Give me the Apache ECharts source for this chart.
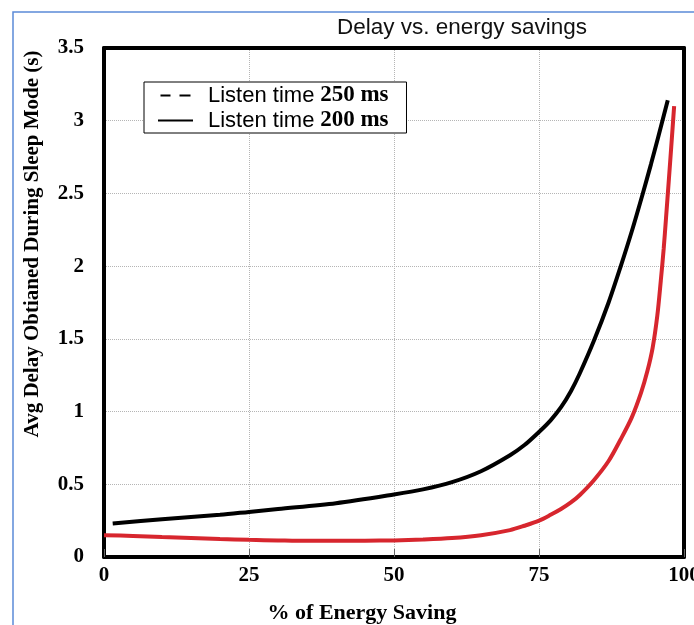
<!DOCTYPE html>
<html>
<head>
<meta charset="utf-8">
<script src="https://cdn.jsdelivr.net/npm/echarts@6/dist/echarts.min.js"></script>
<style>html,body{margin:0;padding:0;background:#fff;}#c{width:694px;height:625px;}</style>
</head>
<body>
<div id="c"></div>
<script>
// Data
var energy200 = [1.5, 10, 20, 25, 30, 40, 50, 55, 60, 65, 70, 72.5, 75, 77, 78.8, 80.5, 82, 84.5, 87, 89.1, 91, 92.9, 94.3, 95.5, 97.2];
var delay200  = [0.23, 0.26, 0.29, 0.31, 0.33, 0.37, 0.43, 0.465, 0.515, 0.59, 0.70, 0.77, 0.86, 0.94, 1.03, 1.14, 1.26, 1.49, 1.75, 2.0, 2.24, 2.50, 2.70, 2.88, 3.14];
var energy250 = [0, 5, 10, 15, 20, 25, 30, 35, 40, 45, 50, 55, 60, 65, 70, 72.5, 75, 77, 78.8, 80.5, 82, 84.5, 87, 89.1, 91, 92.6, 93.7, 94.6, 95.4, 96.0, 96.5, 96.9, 97.4, 97.8, 98.3];
var delay250  = [0.15, 0.145, 0.137, 0.13, 0.123, 0.118, 0.114, 0.111, 0.111, 0.112, 0.114, 0.12, 0.13, 0.15, 0.185, 0.215, 0.25, 0.29, 0.33, 0.375, 0.425, 0.53, 0.66, 0.81, 0.96, 1.13, 1.28, 1.44, 1.66, 1.90, 2.12, 2.33, 2.60, 2.82, 3.10];
var xTicks = [0, 25, 50, 75, 100];
var yTicks = [0, 0.5, 1, 1.5, 2, 2.5, 3, 3.5];
var names = ['Listen time 250 ms', 'Listen time 200 ms'];

function pairs(xs, ys) { return xs.map(function (x, i) { return [x, ys[i]]; }); }

var frameLine = { show: true, onZero: false, lineStyle: { color: '#000', width: 4 } };
var chart = echarts.init(document.getElementById('c'), null, {renderer: 'canvas'});
chart.setOption({
  backgroundColor: '#fff',
  animation: false,
  graphic: [
    { type: 'rect', shape: { x: 13, y: 12, width: 700, height: 700 }, style: { fill: 'none', stroke: '#5b8ad8', lineWidth: 1.5 }, z: -10 },
    { type: 'text', x: 462, y: 28, style: { text: 'Delay vs. energy savings', font: '22.5px "Liberation Sans"', fill: '#111', textAlign: 'center', textVerticalAlign: 'middle' } },
    { type: 'text', x: 33, y: 244, rotation: Math.PI / 2, style: { text: 'Avg Delay Obtianed During Sleep Mode (s)', font: 'bold 21px "Liberation Serif"', fill: '#000', textAlign: 'center', textVerticalAlign: 'middle' } },
    { type: 'text', x: 362, y: 613, style: { text: '% of Energy Saving', font: 'bold 22px "Liberation Serif"', fill: '#000', textAlign: 'center', textVerticalAlign: 'middle' } }
  ],
  grid: { left: 104, right: 10, top: 48, bottom: 68, show: false, outerBoundsMode: 'none', containLabel: false },
  legend: {
    orient: 'vertical', left: 144, top: 82,
    padding: [2, 18, 1, 14],
    borderColor: '#000', borderWidth: 1, backgroundColor: '#fff',
    itemGap: 2, itemWidth: 35, itemHeight: 2,
    selectedMode: false,
    data: [
      { name: names[0], icon: 'path://M0,0H10V2H0Z M19,0H30V2H19Z', itemStyle: { color: '#000' } },
      { name: names[1], icon: 'path://M0,0H35V2H0Z', itemStyle: { color: '#000' } }
    ],
    formatter: function (n) { var p = n.split(' '); return '{a|Listen time}{b| ' + p[2] + ' ' + p[3] + '}'; },
    textStyle: {
      rich: {
        a: { fontFamily: 'Liberation Sans', fontSize: 22, color: '#000', lineHeight: 25, padding: [0, 0, 0, 10] },
        b: { fontFamily: 'Liberation Serif', fontWeight: 'bold', fontSize: 23, color: '#000', lineHeight: 25 }
      }
    }
  },
  xAxis: [{
    type: 'value', position: 'bottom', min: xTicks[0], max: xTicks[xTicks.length - 1], interval: 25,
    axisLine: frameLine,
    axisTick: { show: true, inside: true, length: 8, lineStyle: { color: '#666', width: 1 } },
    axisLabel: { margin: 8, fontFamily: 'Liberation Serif', fontWeight: 'bold', fontSize: 21, color: '#000' },
    splitLine: { show: true, lineStyle: { color: '#b5b5b5', type: 'dotted', width: 1 } }
  }, {
    type: 'value', position: 'top', min: xTicks[0], max: xTicks[xTicks.length - 1], interval: 25,
    axisLine: frameLine, axisTick: { show: false }, axisLabel: { show: false }, splitLine: { show: false }
  }],
  yAxis: [{
    type: 'value', position: 'left', min: yTicks[0], max: yTicks[yTicks.length - 1], interval: 0.5,
    axisLine: frameLine,
    axisTick: { show: false },
    axisLabel: { margin: 20, fontFamily: 'Liberation Serif', fontWeight: 'bold', fontSize: 21, color: '#000' },
    splitLine: { show: true, lineStyle: { color: '#b5b5b5', type: 'dotted', width: 1 } }
  }, {
    type: 'value', position: 'right', min: yTicks[0], max: yTicks[yTicks.length - 1], interval: 0.5,
    axisLine: frameLine, axisTick: { show: false }, axisLabel: { show: false }, splitLine: { show: false }
  }],
  series: [
    { name: names[0], type: 'line', xAxisIndex: 0, yAxisIndex: 0, data: pairs(energy250, delay250), showSymbol: false, symbol: 'none', smooth: 0.3, lineStyle: { color: '#d7262e', width: 4 }, itemStyle: { color: '#d7262e' }, z: 3 },
    { name: names[1], type: 'line', xAxisIndex: 0, yAxisIndex: 0, data: pairs(energy200, delay200), showSymbol: false, symbol: 'none', smooth: 0.3, lineStyle: { color: '#000', width: 4 }, itemStyle: { color: '#000' }, z: 4 }
  ]
});
</script>
</body>
</html>
